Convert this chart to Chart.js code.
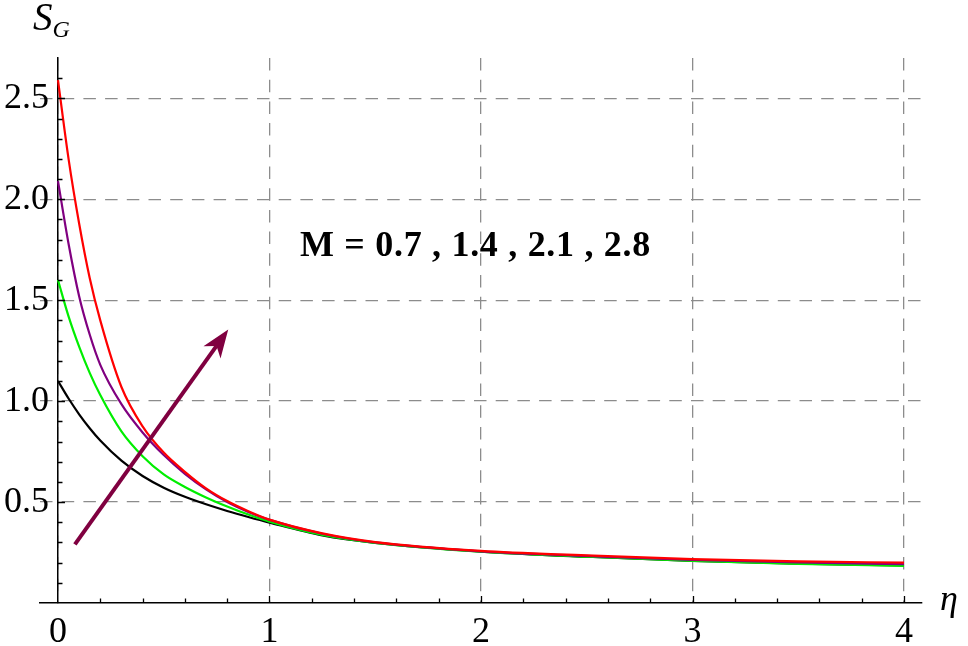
<!DOCTYPE html>
<html>
<head>
<meta charset="utf-8">
<script src="https://cdn.jsdelivr.net/npm/chart.js@4/dist/chart.umd.min.js"></script>
<style>
html,body{margin:0;padding:0;background:#fff;}
#wrap{width:968px;height:646px;position:relative;}
canvas{display:block;}
</style>
</head>
<body>
<div id="wrap"><canvas id="c" width="968" height="646"></canvas></div>
<script>
// ---- data ----
const eta = [0, 0.05, 0.1, 0.15, 0.2, 0.3, 0.4, 0.5, 0.6, 0.7, 0.8, 0.9, 1.0, 1.25, 1.5, 2, 2.5, 3, 3.5, 4];
const sgM07 = [1.10, 1.013, 0.935, 0.866, 0.805, 0.705, 0.629, 0.571, 0.526, 0.489, 0.456, 0.426, 0.398, 0.335, 0.298, 0.255, 0.229, 0.209, 0.195, 0.186];
const sgM14 = [1.60, 1.42, 1.27, 1.14, 1.03, 0.85, 0.727, 0.637, 0.575, 0.523, 0.478, 0.438, 0.403, 0.337, 0.298, 0.254, 0.229, 0.208, 0.194, 0.184];
const sgM21 = [2.09, 1.78, 1.52, 1.33, 1.18, 0.985, 0.845, 0.733, 0.640, 0.563, 0.500, 0.451, 0.412, 0.343, 0.300, 0.256, 0.233, 0.213, 0.201, 0.193];
const sgM28 = [2.59, 2.20, 1.88, 1.61, 1.40, 1.07, 0.875, 0.745, 0.650, 0.568, 0.505, 0.455, 0.413, 0.345, 0.302, 0.258, 0.236, 0.217, 0.206, 0.200];
const mValues = ['0.7', '1.4', '2.1', '2.8'];
const seriesColors = ['#000000', '#00ee00', '#800080', '#ff0000'];
const xTickValues = [0, 1, 2, 3, 4];
const yTickValues = [0.5, 1.0, 1.5, 2.0, 2.5];
const xRange = [-0.085, 4.085];
const yRange = [0, 2.7];
// annotation arrow (data units)
const arrowFrom = [0.08, 0.29];
const arrowTo = [0.805, 1.355];
const labelPos = [1.144, 1.72];

const seriesList = [sgM07, sgM14, sgM21, sgM28];
const datasets = seriesList.map((vals, i) => ({
  label: 'M = ' + mValues[i],
  data: eta.map((x, k) => ({x: x, y: vals[k]})),
  borderColor: seriesColors[i],
  borderWidth: 2.2,
  pointRadius: 0,
  fill: false,
  cubicInterpolationMode: 'monotone',
  order: 4 - i
}));

const decor = {
  id: 'decor',
  afterDatasetsDraw(chart) {
    const ctx = chart.ctx, xs = chart.scales.x, ys = chart.scales.y;
    const p0 = [xs.getPixelForValue(arrowFrom[0]), ys.getPixelForValue(arrowFrom[1])];
    const p1 = [xs.getPixelForValue(arrowTo[0]), ys.getPixelForValue(arrowTo[1])];
    const ang = Math.atan2(p1[1] - p0[1], p1[0] - p0[0]);
    const hl = 28, hw = 10.5;
    const ux = Math.cos(ang), uy = Math.sin(ang);
    const notch = [p1[0] - ux * hl * 0.72, p1[1] - uy * hl * 0.72];
    ctx.save();
    ctx.strokeStyle = '#800040';
    ctx.fillStyle = '#800040';
    ctx.lineWidth = 4;
    ctx.lineCap = 'butt';
    ctx.beginPath();
    ctx.moveTo(p0[0], p0[1]);
    ctx.lineTo(notch[0], notch[1]);
    ctx.stroke();
    ctx.beginPath();
    ctx.moveTo(p1[0], p1[1]);
    ctx.lineTo(p1[0] - ux * hl - uy * hw, p1[1] - uy * hl + ux * hw);
    ctx.lineTo(notch[0], notch[1]);
    ctx.lineTo(p1[0] - ux * hl + uy * hw, p1[1] - uy * hl - ux * hw);
    ctx.closePath();
    ctx.fill();
    ctx.restore();
  },
  afterDraw(chart) {
    const ctx = chart.ctx, xs = chart.scales.x, ys = chart.scales.y, ca = chart.chartArea;
    const x0 = xs.getPixelForValue(0), y0 = ys.getPixelForValue(0);
    ctx.save();
    ctx.strokeStyle = '#000';
    ctx.lineWidth = 1.3;
    ctx.beginPath();
    for (let i = 1; i <= 26; i++) {
      const py = Math.round(ys.getPixelForValue(i / 10)) + 0.5;
      const len = (i % 5 === 0) ? 7 : 4.5;
      ctx.moveTo(x0, py); ctx.lineTo(x0 + len, py);
    }
    for (let i = 1; i <= 20; i++) {
      const px = Math.round(xs.getPixelForValue(i * 0.2)) + 0.5;
      const len = (i % 5 === 0) ? 7 : 4.5;
      ctx.moveTo(px, y0); ctx.lineTo(px, y0 - len);
    }
    ctx.stroke();
    ctx.fillStyle = '#000';
    ctx.textBaseline = 'alphabetic';
    ctx.textAlign = 'left';
    ctx.font = 'bold 36px "Liberation Serif"';
    if ('letterSpacing' in ctx) ctx.letterSpacing = '0.7px';
    ctx.fillText('M = ' + mValues.join(' , '), xs.getPixelForValue(labelPos[0]), ys.getPixelForValue(labelPos[1]));
    if ('letterSpacing' in ctx) ctx.letterSpacing = '0px';
    ctx.font = 'italic 39px "Liberation Serif"';
    ctx.fillText('S', ca.left - 7, ca.top - 28);
    const sw = ctx.measureText('S').width;
    ctx.font = 'italic 24px "Liberation Serif"';
    ctx.fillText('G', ca.left - 7 + sw, ca.top - 21);
    ctx.font = 'italic 36px "Liberation Serif"';
    ctx.fillText('\u03B7', ca.right + 18, y0 + 7);
    ctx.restore();
  }
};

const tickFont = {family: '"Liberation Serif"', size: 36};

new Chart(document.getElementById('c'), {
  type: 'line',
  data: {datasets: datasets},
  options: {
    responsive: false,
    animation: false,
    devicePixelRatio: 1,
    layout: {padding: {left: 40, right: 46, top: 58, bottom: 43}},
    plugins: {legend: {display: false}, tooltip: {enabled: false}},
    elements: {point: {radius: 0}},
    scales: {
      x: {
        type: 'linear', min: xRange[0], max: xRange[1],
        position: {y: 0},
        afterBuildTicks: s => { s.ticks = xTickValues.map(v => ({value: v})); },
        ticks: {font: tickFont, color: '#000', padding: 8, maxRotation: 0, autoSkip: false,
          callback: v => String(v)},
        grid: {color: '#8c8c8c', lineWidth: 1.3, drawTicks: false},
        border: {display: true, color: '#000', width: 1.5, dash: [12.5, 9.2]}
      },
      y: {
        type: 'linear', min: yRange[0], max: yRange[1],
        position: {x: 0},
        afterBuildTicks: s => { s.ticks = yTickValues.map(v => ({value: v})); },
        ticks: {font: tickFont, color: '#000', padding: 16, autoSkip: false,
          callback: v => Number(v).toFixed(1) + ' '},
        grid: {color: '#8c8c8c', lineWidth: 1.3, drawTicks: false},
        border: {display: true, color: '#000', width: 1.5, dash: [12.5, 9.2]}
      }
    }
  },
  plugins: [decor]
});
</script>
</body>
</html>
